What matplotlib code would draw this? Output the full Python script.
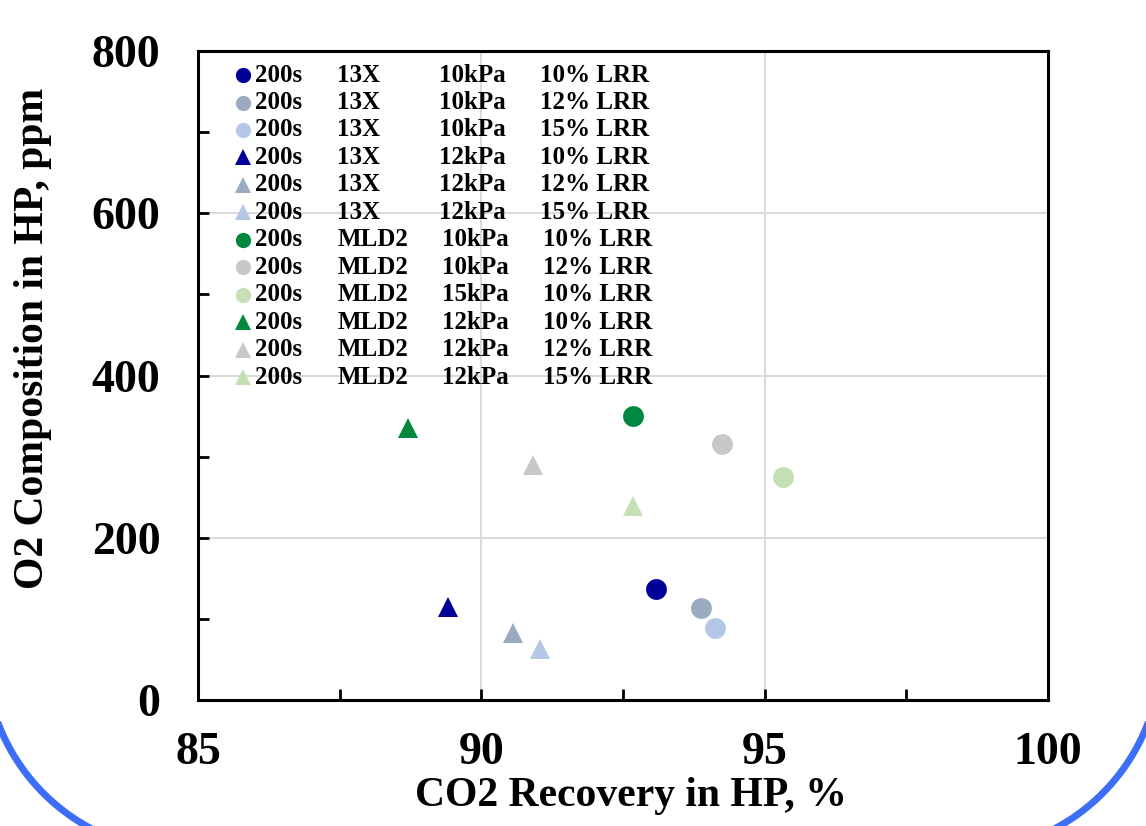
import numpy as np
import matplotlib
matplotlib.use('Agg')
import matplotlib.pyplot as plt

# data
recovery = [93.08, 93.88, 94.12, 89.41, 90.56, 91.03,
            92.68, 94.25, 95.32, 88.71, 90.91, 92.68]
o2_ppm = [137, 113, 89, 115, 83, 63,
          350, 316, 275, 335, 290, 239]
cycle = ['200s'] * 12
adsorbent = ['13X'] * 6 + ['MLD2'] * 6
pressure = ['10kPa', '10kPa', '10kPa', '12kPa', '12kPa', '12kPa',
            '10kPa', '10kPa', '15kPa', '12kPa', '12kPa', '12kPa']
lrr = ['10% LRR', '12% LRR', '15% LRR', '10% LRR', '12% LRR', '15% LRR',
       '10% LRR', '12% LRR', '10% LRR', '10% LRR', '12% LRR', '15% LRR']
markers = ['o', 'o', 'o', '^', '^', '^', 'o', 'o', 'o', '^', '^', '^']
colors = ['#000099', '#9AAAC0', '#B4C7E7', '#000099', '#9AAAC0', '#B4C7E7',
          '#00883E', '#C8C8C8', '#C5E0B4', '#00883E', '#C8C8C8', '#C5E0B4']

plt.rcParams['font.family'] = 'Liberation Serif'
plt.rcParams['font.weight'] = 'bold'

fig = plt.figure(figsize=(11.46, 8.26), dpi=100)

# decorative blue rounded frame corners from the slide behind the chart
bg = fig.add_axes([0, 0, 1, 1], zorder=0)
bg.set_xlim(0, 1146)
bg.set_ylim(826, 0)
bg.axis('off')
t = np.linspace(0, np.pi / 2, 100)
bg.plot(185 - 200 * np.cos(t), 652 + 200 * np.sin(t), color='#3D6EF7', lw=5)
bg.plot(961 + 200 * np.cos(t), 652 + 200 * np.sin(t), color='#3D6EF7', lw=5)

ax = fig.add_axes([0.1728, 0.1525, 0.7417, 0.7857], zorder=1)

for x, y, m, c in zip(recovery, o2_ppm, markers, colors):
    ax.plot(x, y, marker=m, color=c, markersize=15 if m == 'o' else 14,
            linestyle='none', markeredgewidth=0, zorder=3)

# hand-made legend with columns
row_top = 0.963
row_step = 0.0423
for k in range(len(cycle)):
    yy = row_top - k * row_step
    ax.plot(0.053, yy, marker=markers[k], color=colors[k], markersize=11,
            markeredgewidth=0, transform=ax.transAxes, zorder=4)
    shift = 0.0035 if adsorbent[k] == 'MLD2' else 0.0
    for xx, txt in zip([0.067, 0.164, 0.284 + shift, 0.402 + shift],
                       [cycle[k], adsorbent[k], pressure[k], lrr[k]]):
        ax.text(xx, yy, txt, transform=ax.transAxes, fontsize=18,
                fontweight='bold', va='center', ha='left', zorder=4)

ax.set_xlim(85, 100)
ax.set_ylim(0, 800)
ax.set_xticks([85, 90, 95, 100])
ax.set_xticks([87.5, 92.5, 97.5], minor=True)
ax.set_yticks([0, 200, 400, 600, 800])
ax.set_yticks([100, 300, 500, 700], minor=True)
ax.grid(True, which='major', color='#D9D9D9', linewidth=1.4, zorder=0)
ax.set_axisbelow(True)
ax.tick_params(axis='both', which='both', direction='in', length=8, width=2,
               labelsize=33, pad=27)
ax.tick_params(axis='x', which='both', pad=23)
for lab in ax.get_xticklabels() + ax.get_yticklabels():
    lab.set_fontweight('bold')
for sp in ax.spines.values():
    sp.set_linewidth(2.2)

ax.set_xlabel('CO2 Recovery in HP, %', fontsize=30, fontweight='bold')
ax.set_ylabel('O2 Composition in HP, ppm', fontsize=30, fontweight='bold')
ax.xaxis.set_label_coords(0.509, -0.118)
ax.yaxis.set_label_coords(-0.172, 0.558)

fig.savefig('out.png', dpi=100)
